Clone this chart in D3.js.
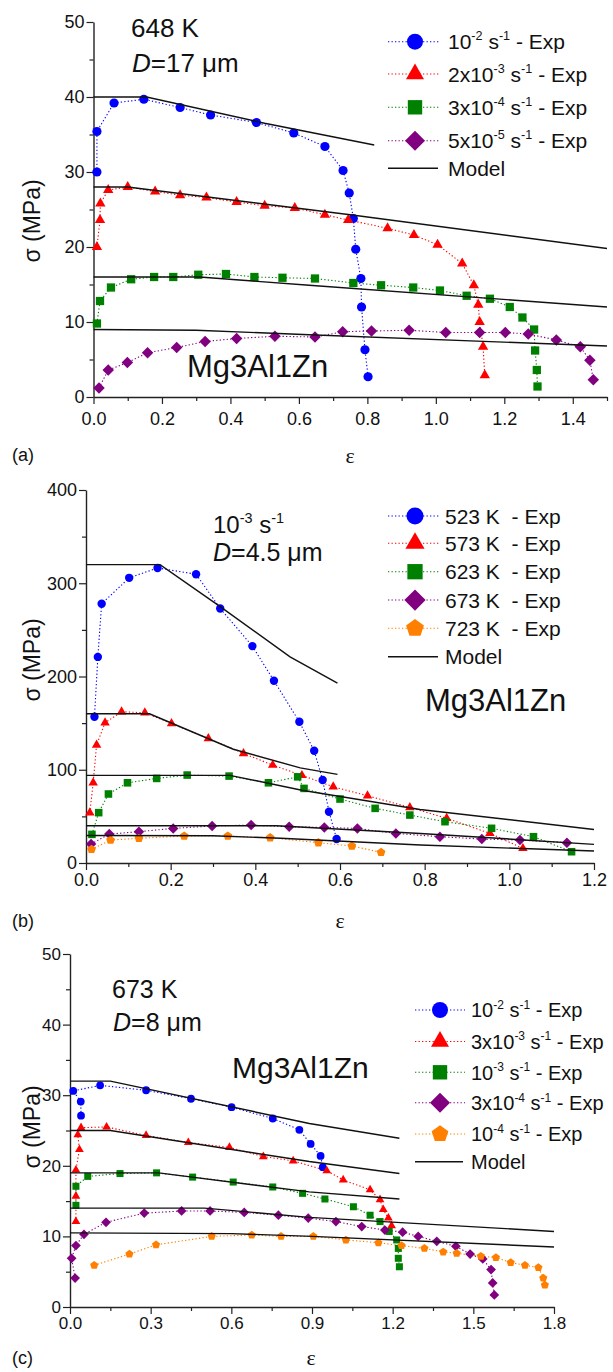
<!DOCTYPE html>
<html><head><meta charset="utf-8">
<script src="https://cdn.jsdelivr.net/npm/d3@7"></script>
<style>
body{margin:0;background:#fff}
text{font-family:"Liberation Sans",Arial,sans-serif;fill:#111;white-space:pre}
</style>
</head><body>
<svg id="chart" width="613" height="1372"></svg>
<script>
// ---------------- DATA ----------------
// Panel (a): 648 K, D = 17 um
const aLabels = ["10^{-2} s^{-1} - Exp", "2x10^{-3} s^{-1} - Exp", "3x10^{-4} s^{-1} - Exp", "5x10^{-5} s^{-1} - Exp"];
const aExp1 = [[0.01,30.0],[0.01,35.4],[0.06,39.2],[0.147,39.7],[0.253,38.6],[0.342,37.6],[0.476,36.6],[0.585,35.2],[0.676,33.4],[0.729,30.2],[0.747,27.2],[0.759,23.8],[0.766,19.7],[0.781,15.8],[0.783,12.0],[0.793,6.3],[0.802,2.7]];
const aExp2 = [[0.01,20.0],[0.019,23.6],[0.02,25.8],[0.043,27.6],[0.10,28.0],[0.18,27.4],[0.253,26.9],[0.33,26.6],[0.418,26.0],[0.50,25.5],[0.588,25.2],[0.676,24.3],[0.744,23.6],[0.859,22.5],[0.936,21.6],[1.005,20.3],[1.077,17.8],[1.111,14.9],[1.124,12.3],[1.128,10.0],[1.138,6.7],[1.143,2.9]];
const aExp3 = [[0.01,9.8],[0.019,12.8],[0.051,14.6],[0.11,15.7],[0.177,16.0],[0.233,16.0],[0.306,16.3],[0.387,16.4],[0.47,16.0],[0.552,15.9],[0.647,15.8],[0.759,15.2],[0.84,14.9],[0.934,14.6],[1.012,14.2],[1.09,13.5],[1.158,13.1],[1.216,12.0],[1.253,10.6],[1.287,9.0],[1.29,6.2],[1.295,3.6],[1.297,1.4]];
const aExp4 = [[0.016,1.2],[0.043,3.6],[0.099,4.6],[0.158,5.9],[0.243,6.6],[0.326,7.4],[0.418,7.8],[0.53,8.1],[0.647,8.0],[0.728,8.7],[0.812,8.8],[0.922,8.9],[1.029,8.6],[1.128,8.6],[1.203,8.6],[1.27,8.4],[1.352,7.6],[1.422,6.7],[1.45,4.9],[1.46,2.3]];
const aModel1 = [[0,40],[0.155,40],[0.5,36.5],[0.82,33.6]];
const aModel2 = [[0,28],[0.1,28],[0.75,24.3],[1.5,19.8]];
const aModel3 = [[0,16],[0.31,16],[0.63,14.9],[1.5,12.0]];
const aModel4 = [[0,9],[0.3,8.9],[0.63,8.3],[1.5,6.8]];
const aXTicks = [0,0.2,0.4,0.6,0.8,1.0,1.2,1.4];
const aXMinor = [0.1,0.3,0.5,0.7,0.9,1.1,1.3,1.5];
const aYTicks = [0,10,20,30,40,50];
const aYMinor = [5,15,25,35,45];

// Panel (b): 10^-3 s^-1, D = 4.5 um
const bLabels = ["523 K\u00a0 - Exp", "573 K\u00a0 - Exp", "623 K\u00a0 - Exp", "673 K\u00a0 - Exp", "723 K\u00a0 - Exp"];
const bExp1 = [[0.02,156.8],[0.028,221],[0.037,278],[0.102,305.8],[0.169,316.4],[0.26,309.7],[0.317,272.9],[0.393,232.6],[0.444,195.4],[0.504,151.4],[0.539,120.3],[0.559,89],[0.574,55],[0.592,25.7]];
const bExp2 = [[0.009,53.9],[0.017,86],[0.025,126.5],[0.045,150.4],[0.084,162.2],[0.139,161.1],[0.202,149.6],[0.289,133.6],[0.372,117.5],[0.441,105],[0.51,94],[0.584,81.7],[0.665,72.1],[0.765,59.6],[0.852,47.9],[0.954,31.8],[1.032,15.7]];
const bExp3 = [[0.014,30.7],[0.03,54],[0.053,74],[0.098,86],[0.167,90.7],[0.239,94.3],[0.338,93.2],[0.431,86],[0.50,92.4],[0.515,80],[0.6,68.6],[0.683,58.6],[0.765,51.4],[0.848,44.3],[0.958,37.2],[1.057,28.2],[1.147,12.1]];
const bExp4 = [[0.012,20.4],[0.055,31],[0.125,33.6],[0.206,37.1],[0.298,39.7],[0.39,40.7],[0.48,38.9],[0.563,38.1],[0.641,37.1],[0.732,31.7],[0.836,28.2],[0.935,25.7],[1.025,24.6],[1.136,21.8]];
const bExp5 = [[0.013,14.6],[0.058,24.6],[0.125,26.5],[0.232,28.9],[0.335,28.9],[0.435,27.1],[0.549,21.8],[0.628,18.2],[0.697,11.4]];
const bModel1 = [[0,320],[0.175,320],[0.317,275],[0.482,221],[0.594,193]];
const bModel2 = [[0,160],[0.15,160],[0.348,122],[0.506,102],[0.594,95]];
const bModel3 = [[0,94],[0.34,94],[0.51,78],[0.789,57.4],[1.2,36]];
const bModel4 = [[0,40],[0.45,40],[0.79,31.7],[1.2,20]];
const bModel5 = [[0,29.5],[0.3,29.3],[0.46,26.5],[0.79,19.3],[1.2,12.9]];
const bXTicks = [0,0.2,0.4,0.6,0.8,1.0,1.2];
const bXMinor = [0.1,0.3,0.5,0.7,0.9,1.1];
const bYTicks = [0,100,200,300,400];
const bYMinor = [50,150,250,350];

// Panel (c): 673 K, D = 8 um
const cLabels = ["10^{-2} s^{-1} - Exp", "3x10^{-3} s^{-1} - Exp", "10^{-3} s^{-1} - Exp", "3x10^{-4} s^{-1} - Exp", "10^{-4} s^{-1} - Exp"];
const cExp1 = [[0.041,27.1],[0.04,29.1],[0.012,30.6],[0.112,31.4],[0.283,30.7],[0.45,29.5],[0.601,28.3],[0.754,26.7],[0.853,25.1],[0.895,23.1],[0.932,21.4],[0.94,19.8]];
const cExp2 = [[0.022,12.1],[0.022,15.7],[0.022,19.4],[0.035,22.3],[0.029,24.4],[0.041,25.4],[0.136,25.5],[0.283,24.3],[0.44,23.3],[0.593,22.6],[0.719,21.3],[0.83,20.7],[0.955,19.3],[1.016,18.0],[1.116,16.6],[1.153,15.2],[1.165,13.8],[1.184,12.6],[1.196,11.5]];
const cExp3 = [[0.022,14.4],[0.022,17.1],[0.066,18.5],[0.186,18.9],[0.322,19.0],[0.456,18.4],[0.607,17.7],[0.754,17.0],[0.865,16.1],[0.948,15.3],[1.054,14.2],[1.116,13.0],[1.153,12.1],[1.187,10.7],[1.215,9.5],[1.221,8.3],[1.221,6.9],[1.225,5.7]];
const cExp4 = [[0.019,4.1],[0.006,6.9],[0.022,8.7],[0.052,10.3],[0.134,12.0],[0.276,13.3],[0.415,13.6],[0.521,13.6],[0.648,13.4],[0.775,13.0],[0.886,12.6],[0.989,12.1],[1.085,11.4],[1.171,10.9],[1.237,10.6],[1.295,10.0],[1.364,9.3],[1.435,8.6],[1.488,7.5],[1.535,6.8],[1.566,5.3],[1.572,3.4],[1.578,1.7]];
const cExp5 = [[0.09,5.9],[0.221,7.5],[0.32,8.8],[0.527,10.0],[0.676,10.2],[0.785,10.0],[0.905,10.0],[1.026,9.5],[1.147,9.1],[1.233,8.7],[1.318,8.3],[1.388,7.8],[1.438,7.6],[1.528,7.2],[1.584,7.0],[1.639,6.3],[1.692,5.9],[1.742,5.6],[1.76,4.1],[1.766,3.1]];
const cModel1 = [[0,32],[0.15,32],[0.89,26],[1.225,23.9]];
const cModel2 = [[0,25],[0.15,25],[0.89,20.6],[1.225,18.9]];
const cModel3 = [[0,19],[0.33,19],[0.89,16.3],[1.225,15.3]];
const cModel4 = [[0,14],[0.5,14],[0.89,12.7],[1.8,10.7]];
const cModel5 = [[0,10.5],[0.6,10.4],[0.9,10.0],[1.8,8.5]];
const cXTicks = [0,0.3,0.6,0.9,1.2,1.5,1.8];
const cXMinor = [0.15,0.45,0.75,1.05,1.35,1.65];
const cYTicks = [0,10,20,30,40,50];
const cYMinor = [5,15,25,35,45];

const modelLabel = "Model";
const yTitle = "σ (MPa)";
const xTitle = "ε";

// ---------------- STYLE ----------------
const COLORS = ["#0000ff", "#ff0000", "#008000", "#800080", "#ff8000"];
const SHAPES = ["circle", "triangle", "square", "diamond", "pentagon"];

const svg = d3.select("#chart");

function shapePath(type, r) {
  const p = d3.path();
  if (type === "circle") { p.arc(0, 0, r, 0, 2 * Math.PI); p.closePath(); }
  else if (type === "triangle") {
    const R = r * 1.3;
    p.moveTo(0, -R); p.lineTo(R * 0.866, R * 0.5); p.lineTo(-R * 0.866, R * 0.5); p.closePath();
  } else if (type === "square") {
    const s = r * 0.9;
    p.rect(-s, -s, 2 * s, 2 * s);
  } else if (type === "diamond") {
    const R = r * 1.25;
    p.moveTo(0, -R); p.lineTo(R, 0); p.lineTo(0, R); p.lineTo(-R, 0); p.closePath();
  } else if (type === "pentagon") {
    const R = r * 1.1;
    for (let k = 0; k < 5; k++) {
      const a = -Math.PI / 2 + k * 2 * Math.PI / 5;
      const px = R * Math.cos(a), py = R * Math.sin(a);
      if (k === 0) p.moveTo(px, py); else p.lineTo(px, py);
    }
    p.closePath();
  }
  return p.toString();
}

function richText(sel, str, fs) {
  const parts = str.split(/(\^\{[^}]*\})/).filter(s => s.length);
  let up = false;
  parts.forEach(part => {
    if (part.startsWith("^{")) {
      sel.append("tspan").attr("font-size", fs * 0.6).attr("dy", -fs * 0.42).text(part.slice(2, -1));
      up = true;
    } else {
      sel.append("tspan").attr("font-size", fs).attr("dy", up ? fs * 0.42 : 0).text(part);
      up = false;
    }
  });
}

function drawPanel(cfg) {
  const x = d3.scaleLinear().domain(cfg.xDomain).range([cfg.left, cfg.right]);
  const y = d3.scaleLinear().domain(cfg.yDomain).range([cfg.bottom, cfg.top]);
  const g = svg.append("g");

  // axes
  g.append("g").attr("transform", `translate(0,${cfg.bottom})`)
    .call(d3.axisBottom(x).tickValues(cfg.xTicks).tickFormat(d3.format(".1f"))
      .tickSize(7).tickSizeOuter(0).tickPadding(cfg.xPad));
  const xm = g.append("g").attr("transform", `translate(0,${cfg.bottom})`)
    .call(d3.axisBottom(x).tickValues(cfg.xMinor).tickFormat("").tickSize(4));
  xm.select(".domain").remove();
  g.append("g").attr("transform", `translate(${cfg.left},0)`)
    .call(d3.axisLeft(y).tickValues(cfg.yTicks).tickFormat(d3.format("d"))
      .tickSize(7).tickSizeOuter(0).tickPadding(2));
  const ym = g.append("g").attr("transform", `translate(${cfg.left},0)`)
    .call(d3.axisLeft(y).tickValues(cfg.yMinor).tickFormat("").tickSize(4));
  ym.select(".domain").remove();
  g.selectAll(".domain").attr("stroke", "#222").attr("stroke-width", 1.4);
  g.selectAll(".tick line").attr("stroke", "#222").attr("stroke-width", 1.2);
  g.selectAll(".tick text").attr("font-size", cfg.tickFs).attr("fill", "#222")
    .attr("font-family", '"Liberation Sans", Arial, sans-serif');

  // experimental dotted connecting lines
  const line = d3.line().x(d => x(d[0])).y(d => y(d[1]));
  cfg.exp.forEach((s, i) => {
    g.append("path").attr("d", line(s)).attr("fill", "none")
      .attr("stroke", COLORS[i]).attr("stroke-width", 1.1).attr("stroke-dasharray", "1.3,2.2");
  });
  // markers
  cfg.exp.forEach((s, i) => {
    g.append("g").selectAll("path").data(s).join("path")
      .attr("transform", d => `translate(${x(d[0])},${y(d[1])})`)
      .attr("d", shapePath(SHAPES[i], cfg.mr))
      .attr("fill", COLORS[i]);
  });
  // model lines
  cfg.models.forEach(m => {
    g.append("path").attr("d", line(m)).attr("fill", "none")
      .attr("stroke", "#111").attr("stroke-width", 1.4);
  });

  // legend
  const L = cfg.legend;
  cfg.labels.forEach((lab, i) => {
    const yy = L.rows[i];
    g.append("line").attr("x1", L.x1).attr("x2", L.x2).attr("y1", yy).attr("y2", yy)
      .attr("stroke", COLORS[i]).attr("stroke-width", 1.1).attr("stroke-dasharray", "1.3,2.2");
    g.append("path").attr("transform", `translate(${L.xm},${yy})`)
      .attr("d", shapePath(SHAPES[i], L.r)).attr("fill", COLORS[i]);
    const t = g.append("text").attr("x", L.xt).attr("y", yy + L.fs * 0.36);
    richText(t, lab, L.fs);
  });
  const ym2 = L.rows[cfg.labels.length];
  g.append("line").attr("x1", L.x1).attr("x2", L.x2 - 2).attr("y1", ym2).attr("y2", ym2)
    .attr("stroke", "#111").attr("stroke-width", 1.4);
  g.append("text").attr("x", L.xt).attr("y", ym2 + L.fs * 0.36).attr("font-size", L.fs).text(modelLabel);

  // annotations
  cfg.notes.forEach(n => {
    const t = g.append("text").attr("x", n.x).attr("y", n.y);
    if (n.italicD) {
      t.append("tspan").attr("font-size", n.fs).attr("font-style", "italic").text("D");
      t.append("tspan").attr("font-size", n.fs).text(n.text);
    } else {
      richText(t, n.text, n.fs);
    }
  });
  g.append("text").attr("x", cfg.alloy.x).attr("y", cfg.alloy.y)
    .attr("font-size", cfg.alloy.fs).text("Mg3Al1Zn");

  // titles
  g.append("text").attr("transform", `translate(${cfg.yTitle[0]},${cfg.yTitle[1]}) rotate(-90)`)
    .attr("text-anchor", "middle").attr("font-size", 23).text(yTitle);
  g.append("text").attr("x", cfg.xTitle[0]).attr("y", cfg.xTitle[1])
    .attr("text-anchor", "middle").attr("font-size", 22)
    .style("font-family", '"Liberation Serif", "Times New Roman", serif').text(xTitle);
  g.append("text").attr("x", 12).attr("y", cfg.tag[1]).attr("font-size", 18).text(cfg.tag[0]);
}

drawPanel({
  xDomain: [0, 1.5], yDomain: [0, 50], left: 93.5, right: 607, top: 22, bottom: 397,
  xTicks: aXTicks, xMinor: aXMinor, yTicks: aYTicks, yMinor: aYMinor, xPad: 8, tickFs: 18,
  exp: [aExp1, aExp2, aExp3, aExp4], models: [aModel1, aModel2, aModel3, aModel4], mr: 4.6,
  labels: aLabels,
  legend: { x1: 388, x2: 440, xm: 415, xt: 448, r: 8, fs: 21, rows: [41.7, 74, 107.3, 140.7, 168.3] },
  notes: [{ x: 131, y: 37, fs: 26, text: "648 K" }, { x: 132, y: 72, fs: 26, italicD: true, text: "=17 μm" }],
  alloy: { x: 187, y: 377, fs: 31 },
  yTitle: [40, 221], xTitle: [350, 463], tag: ["(a)", 461]
});

drawPanel({
  xDomain: [0, 1.2], yDomain: [0, 400], left: 86, right: 594, top: 490, bottom: 863,
  xTicks: bXTicks, xMinor: bXMinor, yTicks: bYTicks, yMinor: bYMinor, xPad: 3, tickFs: 18,
  exp: [bExp1, bExp2, bExp3, bExp4, bExp5], models: [bModel1, bModel2, bModel3, bModel4, bModel5], mr: 4.2,
  labels: bLabels,
  legend: { x1: 388, x2: 440, xm: 415, xt: 445, r: 8.5, fs: 21, rows: [516, 543.3, 571.7, 600, 628.3, 656.7] },
  notes: [{ x: 213, y: 533, fs: 24, text: "10^{-3} s^{-1}" }, { x: 213, y: 561, fs: 25, italicD: true, text: "=4.5 μm" }],
  alloy: { x: 425, y: 711, fs: 31 },
  yTitle: [40, 660], xTitle: [340, 928], tag: ["(b)", 927]
});

drawPanel({
  xDomain: [0, 1.8], yDomain: [0, 50], left: 70, right: 554, top: 954, bottom: 1307,
  xTicks: cXTicks, xMinor: cXMinor, yTicks: cYTicks, yMinor: cYMinor, xPad: 3, tickFs: 17,
  exp: [cExp1, cExp2, cExp3, cExp4, cExp5], models: [cModel1, cModel2, cModel3, cModel4, cModel5], mr: 3.9,
  labels: cLabels,
  legend: { x1: 415, x2: 465, xm: 440, xt: 471, r: 8, fs: 20, rows: [1010, 1041.5, 1072.3, 1102.7, 1134, 1161.7] },
  notes: [{ x: 112, y: 998, fs: 25, text: "673 K" }, { x: 113, y: 1031, fs: 25, italicD: true, text: "=8 μm" }],
  alloy: { x: 232, y: 1078, fs: 30 },
  yTitle: [40, 1127], xTitle: [311, 1365], tag: ["(c)", 1364]
});
</script>
</body></html>
